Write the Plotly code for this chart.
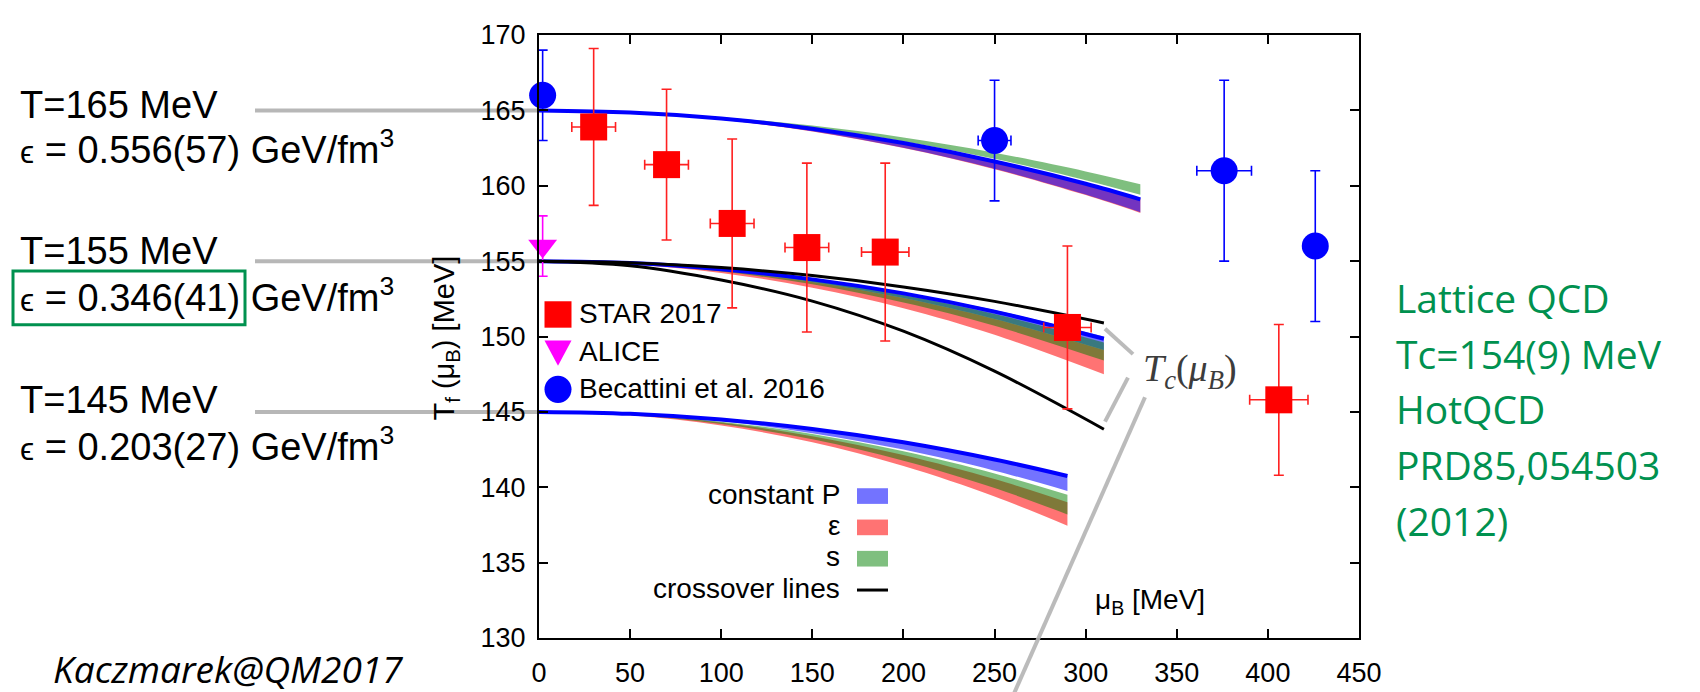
import plotly.graph_objects as go

# ---------------- data ----------------
star_mu = [30, 70, 106, 147, 190, 290, 406]
star_T = [163.9, 161.4, 157.5, 155.9, 155.6, 150.6, 145.8]
star_dT = [5.2, 5.0, 5.6, 5.6, 5.9, 5.4, 5.0]
star_dmu = [12, 12, 12, 12, 13, 13, 16]

alice_mu = [2]
alice_T = [156]
alice_dT = [2]

bec_mu = [2, 250, 376, 426]
bec_T = [166, 163, 161, 156]
bec_dT = [3, 4, 6, 5]
bec_dmu = [0, 9, 15, 0]

# freeze-out bands, T0 = 165 MeV
mu_165 = [0, 50, 100, 150, 200, 250, 300, 330]
P165_hi = [165, 164.86, 164.46, 163.78, 162.83, 161.61, 160.13, 159.1]
P165_lo = [165, 164.84, 164.38, 163.61, 162.52, 161.13, 159.42, 158.25]
s165_hi = [165, 164.89, 164.55, 163.99, 163.2, 162.19, 160.95, 160.1]
s165_lo = [165, 164.87, 164.49, 163.84, 162.94, 161.79, 160.37, 159.4]
e165_hi = [165, 164.87, 164.46, 163.79, 162.85, 161.64, 160.17, 159.15]
e165_lo = [165, 164.84, 164.38, 163.6, 162.5, 161.1, 159.38, 158.2]

# T0 = 155 MeV
mu_155 = [0, 50, 100, 150, 200, 250, 310]
P155_hi = [155, 154.87, 154.48, 153.83, 152.92, 151.75, 150.0]
P155_lo = [155, 154.85, 154.39, 153.62, 152.55, 151.16, 149.1]
s155_hi = [155, 154.86, 154.44, 153.74, 152.75, 151.49, 149.6]
s155_lo = [155, 154.83, 154.31, 153.46, 152.25, 150.71, 148.4]
e155_hi = [155, 154.85, 154.39, 153.62, 152.55, 151.16, 149.1]
e155_lo = [155, 154.8, 154.22, 153.24, 151.88, 150.12, 147.5]
P155_line = [155, 154.87, 154.46, 153.79, 152.86, 151.65, 149.85]

# T0 = 145 MeV
mu_145 = [0, 50, 100, 150, 200, 250, 290]
P145_hi = [145, 144.87, 144.49, 143.86, 142.98, 141.84, 140.75]
P145_lo = [145, 144.84, 144.38, 143.59, 142.5, 141.1, 139.75]
s145_hi = [145, 144.84, 144.35, 143.53, 142.38, 140.91, 139.5]
s145_lo = [145, 144.8, 144.19, 143.18, 141.76, 139.95, 138.2]
e145_hi = [145, 144.82, 144.29, 143.39, 142.14, 140.54, 139.0]
e145_lo = [145, 144.78, 144.1, 142.98, 141.41, 139.39, 137.45]

# crossover lines
mu_x = [0, 50, 100, 150, 200, 250, 310]
cross_hi = [155, 154.9, 154.57, 154.04, 153.29, 152.33, 150.9]
cross_lo = [155, 154.7, 153.75, 152.35, 150.35, 147.7, 143.85]

x_ticks = [0, 50, 100, 150, 200, 250, 300, 350, 400, 450]
y_ticks = [130, 135, 140, 145, 150, 155, 160, 165, 170]

EPS = "<span style='font-size:32px'>ϵ</span>"
left_T = ["T=165 MeV", "T=155 MeV", "T=145 MeV"]
left_eps = [EPS + " = 0.556(57) GeV/fm<sup>3</sup>", EPS + " = 0.346(41) GeV/fm<sup>3</sup>",
            EPS + " = 0.203(27) GeV/fm<sup>3</sup>"]
left_levels = [165, 155, 145]
lattice_lines = ["Lattice QCD", "Tc=154(9) MeV", "HotQCD", "PRD85,054503", "(2012)"]
legend2_labels = ["constant P", "ε", "s", "crossover lines"]

# ---------------- geometry helpers ----------------
W, H = 1700, 692
ML, MR, MT, MB = 531, 349, 17, 59
PW = W - ML - MR
PH = H - MT - MB


def xp(px):
    return (px - ML) / PW


def yp(py):
    return 1 - (py - MT) / PH


BLUE_F = "rgba(0,0,255,0.55)"
RED_F = "rgba(255,0,0,0.55)"
GREEN_F = "rgba(0,128,0,0.5)"
SANS = "Liberation Sans, Arial, sans-serif"
GREEN_TXT = "#00914f"

fig = go.Figure()


def band(mu, lo, hi, color):
    fig.add_trace(go.Scatter(x=mu, y=lo, mode="lines", line=dict(width=0, shape="spline"),
                             hoverinfo="skip", showlegend=False))
    fig.add_trace(go.Scatter(x=mu, y=hi, mode="lines", line=dict(width=0, shape="spline"),
                             fill="tonexty", fillcolor=color, hoverinfo="skip", showlegend=False))


for mu, P_lo, P_hi, s_lo, s_hi, e_lo, e_hi in [
    (mu_165, P165_lo, P165_hi, s165_lo, s165_hi, e165_lo, e165_hi),
    (mu_155, P155_lo, P155_hi, s155_lo, s155_hi, e155_lo, e155_hi),
    (mu_145, P145_lo, P145_hi, s145_lo, s145_hi, e145_lo, e145_hi),
]:
    band(mu, e_lo, e_hi, RED_F)
    band(mu, P_lo, P_hi, BLUE_F)
    band(mu, s_lo, s_hi, GREEN_F)

for mu, ln in [(mu_165, P165_hi), (mu_155, P155_line), (mu_145, P145_hi)]:
    fig.add_trace(go.Scatter(x=mu, y=ln, mode="lines", line=dict(color="#0000ff", width=4, shape="spline"),
                             showlegend=False))

for ln in [cross_hi, cross_lo]:
    fig.add_trace(go.Scatter(x=mu_x, y=ln, mode="lines", line=dict(color="black", width=3, shape="spline"),
                             showlegend=False))

fig.add_trace(go.Scatter(
    x=star_mu, y=star_T, mode="markers", name="STAR 2017", cliponaxis=False,
    marker=dict(symbol="square", size=27, color="#ff0000"),
    error_y=dict(type="data", array=star_dT, color="#ff2020", thickness=1.6, width=5),
    error_x=dict(type="data", array=star_dmu, color="#ff2020", thickness=1.6, width=5),
    showlegend=False))
fig.add_trace(go.Scatter(
    x=alice_mu, y=alice_T, mode="markers", name="ALICE", cliponaxis=False,
    marker=dict(symbol="triangle-down", size=25, color="#ff00ff"),
    error_y=dict(type="data", array=alice_dT, color="#ff00ff", thickness=1.6, width=5),
    showlegend=False))
fig.add_trace(go.Scatter(
    x=bec_mu, y=bec_T, mode="markers", name="Becattini et al. 2016", cliponaxis=False,
    marker=dict(symbol="circle", size=27, color="#0000ff"),
    error_y=dict(type="data", array=bec_dT, color="#0000ff", thickness=1.6, width=5),
    error_x=dict(type="data", array=bec_dmu, color="#0000ff", thickness=1.6, width=5),
    showlegend=False))

shapes = []
annotations = []

# gray guide lines from left labels
for lev in left_levels:
    shapes.append(dict(type="line", xref="paper", yref="y", x0=xp(247), x1=xp(531), y0=lev, y1=lev,
                       line=dict(color="rgba(170,170,170,0.85)", width=4), layer="below"))

# left texts
for i, (t, e) in enumerate(zip(left_T, left_eps)):
    ty = [88, 238, 390][i]
    ey = [131, 283, 435][i]
    annotations.append(dict(xref="paper", yref="paper", x=xp(10), y=yp(ty), text=t, showarrow=False,
                            xanchor="left", yanchor="middle", font=dict(family=SANS, size=38, color="black")))
    annotations.append(dict(xref="paper", yref="paper", x=xp(10), y=yp(ey), text=e, showarrow=False,
                            xanchor="left", yanchor="middle", font=dict(family=SANS, size=38, color="black")))

shapes.append(dict(type="rect", xref="paper", yref="paper", x0=xp(5), x1=xp(237), y0=yp(313), y1=yp(258),
                   line=dict(color=GREEN_TXT, width=3)))

annotations.append(dict(xref="paper", yref="paper", x=xp(44), y=yp(691), text="<i>Kaczmarek@QM2017</i>",
                        showarrow=False, xanchor="left", yanchor="bottom", borderpad=0,
                        font=dict(family="Open Sans, sans-serif", size=37, color="black")))

for i, t in enumerate(lattice_lines):
    annotations.append(dict(xref="paper", yref="paper", x=xp(1386), y=yp(285 + 57 * i), text=t,
                            showarrow=False, xanchor="left", yanchor="middle",
                            font=dict(family="Open Sans, sans-serif", size=39, color=GREEN_TXT)))

# axis titles
annotations.append(dict(xref="paper", yref="paper", x=xp(438), y=yp(327),
                        text="T<sub>f</sub> (μ<sub>B</sub>) [MeV]", textangle=-90, showarrow=False,
                        xanchor="center", yanchor="middle", font=dict(family=SANS, size=29, color="black")))
annotations.append(dict(xref="paper", yref="paper", x=xp(1142), y=yp(596),
                        text="μ<sub>B</sub> [MeV]", showarrow=False,
                        xanchor="center", yanchor="middle", font=dict(family=SANS, size=28, color="black")))

# Tc(muB) label and gray connectors
annotations.append(dict(xref="paper", yref="paper", x=xp(1182), y=yp(360),
                        text="<i>T</i><sub><i>c</i></sub>(<i>μ</i><sub><i>B</i></sub>)", showarrow=False,
                        xanchor="center", yanchor="middle",
                        font=dict(family="Liberation Serif, DejaVu Serif, serif", size=38, color="#3c3c3c")))
for (x0, y0, x1, y1) in [(1097, 317, 1125, 343), (1120, 367, 1097, 412), (1137, 387, 1005, 692)]:
    shapes.append(dict(type="line", xref="paper", yref="paper", x0=xp(x0), y0=yp(y0), x1=xp(x1), y1=yp(y1),
                       line=dict(color="rgba(180,180,180,0.9)", width=4)))

# legend 1 (markers)
shapes.append(dict(type="rect", xref="paper", yref="paper", x0=xp(536.5), x1=xp(563.5), y0=yp(316), y1=yp(289),
                   fillcolor="#ff0000", line=dict(width=0)))
shapes.append(dict(type="path", xref="paper", yref="paper",
                   path=f"M {xp(536.5)},{yp(329)} L {xp(563.5)},{yp(329)} L {xp(550)},{yp(355)} Z",
                   fillcolor="#ff00ff", line=dict(width=0)))
shapes.append(dict(type="circle", xref="paper", yref="paper", x0=xp(536.5), x1=xp(563.5), y0=yp(393), y1=yp(365),
                   fillcolor="#0000ff", line=dict(width=0)))
for t, yy in [("STAR 2017", 302), ("ALICE", 340), ("Becattini et al. 2016", 378)]:
    annotations.append(dict(xref="paper", yref="paper", x=xp(569), y=yp(yy), text=t, showarrow=False,
                            xanchor="left", yanchor="middle", font=dict(family=SANS, size=28, color="black")))

# legend 2 (bands)
for t, yy, col in zip(legend2_labels, [488, 520, 552, 584],
                      ["rgba(0,0,255,0.55)", "rgba(255,0,0,0.55)", "rgba(0,128,0,0.5)", None]):
    annotations.append(dict(xref="paper", yref="paper", x=xp(834), y=yp(yy - 2), text=t, showarrow=False,
                            xanchor="right", yanchor="middle", font=dict(family=SANS, size=28, color="black")))
    if col:
        shapes.append(dict(type="rect", xref="paper", yref="paper", x0=xp(849), x1=xp(880),
                           y0=yp(yy + 8), y1=yp(yy - 8), fillcolor=col, line=dict(width=0)))
    else:
        shapes.append(dict(type="line", xref="paper", yref="paper", x0=xp(849), x1=xp(880),
                           y0=yp(yy), y1=yp(yy), line=dict(color="black", width=3)))

axis_common = dict(ticks="inside", ticklen=9, tickwidth=1.5, tickcolor="black", showline=True,
                   linewidth=2, linecolor="black", mirror="ticks", showgrid=False, zeroline=False,
                   tickfont=dict(family=SANS, size=27, color="black"))

fig.update_layout(
    width=W, height=H, margin=dict(l=ML, r=MR, t=MT, b=MB),
    paper_bgcolor="white", plot_bgcolor="white",
    xaxis=dict(range=[0, 450], tickvals=x_ticks, ticklabelstandoff=10, **axis_common),
    yaxis=dict(range=[130, 170], tickvals=y_ticks, ticklabelstandoff=6, **axis_common),
    shapes=shapes, annotations=annotations, showlegend=False,
)

fig.write_html("out.html")
